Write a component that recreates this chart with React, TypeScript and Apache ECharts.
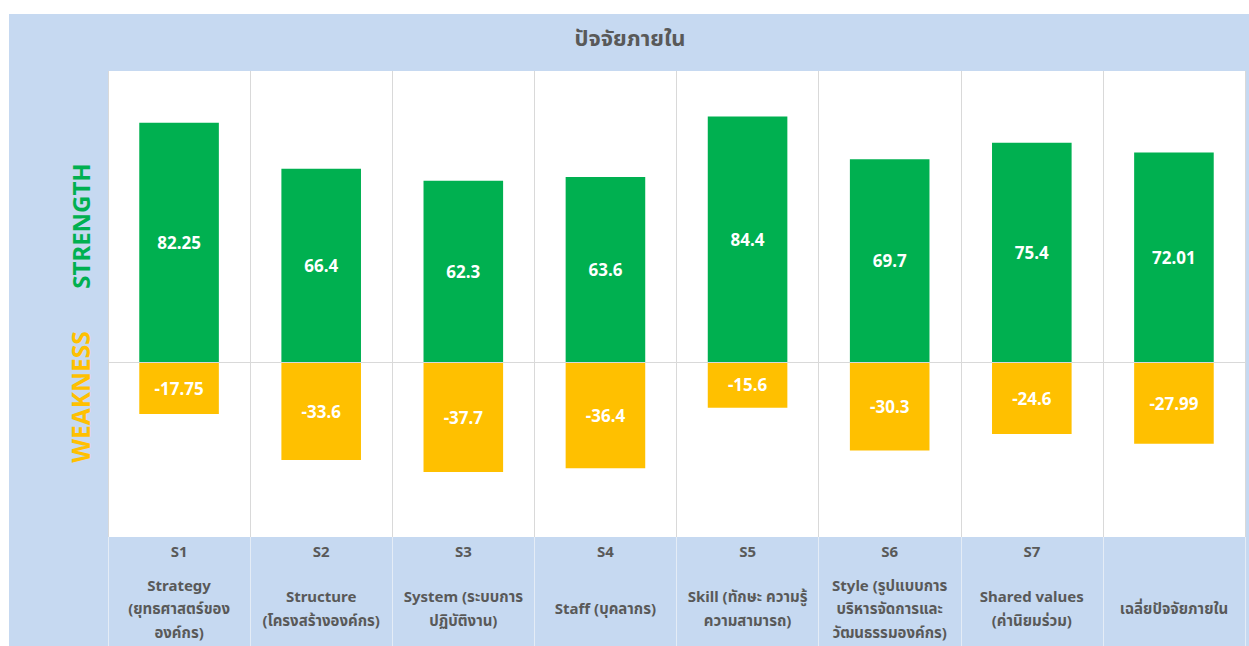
import React, { useEffect, useRef } from "react";
import * as echarts from "echarts";

const categories = ["S1", "S2", "S3", "S4", "S5", "S6", "S7", "AVG"];
const codeLabels = ["S1", "S2", "S3", "S4", "S5", "S6", "S7", ""];
const descLabels = [
  "Strategy\n(ยุทธศาสตร์ของ\nองค์กร)",
  "Structure\n(โครงสร้างองค์กร)",
  "System (ระบบการ\nปฏิบัติงาน)",
  "Staff (บุคลากร)",
  "Skill (ทักษะ ความรู้\nความสามารถ)",
  "Style (รูปแบบการ\nบริหารจัดการและ\nวัฒนธรรมองค์กร)",
  "Shared values\n(ค่านิยมร่วม)",
  "เฉลี่ยปัจจัยภายใน",
];
const strengthValues = [82.25, 66.4, 62.3, 63.6, 84.4, 69.7, 75.4, 72.01];
const weaknessValues = [-17.75, -33.6, -37.7, -36.4, -15.6, -30.3, -24.6, -27.99];
const titleText = "ปัจจัยภายใน";
const strengthLabel = "STRENGTH";
const weaknessLabel = "WEAKNESS";

const FONT = "'Noto Sans', 'Noto Sans Thai', Tahoma, sans-serif";
const GREY = "#595959";
const GREEN = "#00B050";
const YELLOW = "#FFC000";
const PANEL = "#C6D9F1";
const GRIDLINE = "#D9D9D9";

export default function App() {
  const ref = useRef<HTMLDivElement>(null);
  useEffect(() => {
    if (!ref.current) return;
    const chart = echarts.init(ref.current, null, { renderer: "svg" });
    const barLabel = {
      show: true,
      position: "inside",
      color: "#ffffff",
      fontWeight: "bold",
      fontSize: 17,
      fontFamily: FONT,
      formatter: (p: any) => String(p.value),
    };
    chart.setOption({
      animation: false,
      backgroundColor: "#ffffff",
      graphic: [
        {
          type: "rect",
          z: -10,
          shape: { x: 9, y: 14, width: 1240, height: 632 },
          style: { fill: PANEL },
          silent: true,
        },
        {
          type: "text",
          x: 630,
          y: 37,
          style: {
            text: titleText,
            fill: GREY,
            font: `bold 22px ${FONT}`,
            textAlign: "center",
            textVerticalAlign: "middle",
          },
        },
        {
          type: "text",
          x: 80,
          y: 226,
          rotation: Math.PI / 2,
          style: {
            text: strengthLabel,
            fill: GREEN,
            font: `bold 24px ${FONT}`,
            textAlign: "center",
            textVerticalAlign: "middle",
          },
        },
        {
          type: "text",
          x: 80,
          y: 397,
          rotation: Math.PI / 2,
          style: {
            text: weaknessLabel,
            fill: YELLOW,
            font: `bold 24.5px ${FONT}`,
            textAlign: "center",
            textVerticalAlign: "middle",
          },
        },
      ],
      grid: [
        {
          left: 108,
          top: 71,
          width: 1137,
          height: 466,
          show: true,
          backgroundColor: "#ffffff",
          borderWidth: 0,
        },
        {
          left: 108,
          top: 537,
          width: 1137,
          height: 120,
          show: false,
        },
      ],
      xAxis: [
        {
          gridIndex: 0,
          type: "category",
          data: categories,
          position: "bottom",
          axisLine: { show: false, onZero: false },
          axisTick: { show: false },
          splitLine: { show: true, interval: 0, lineStyle: { color: GRIDLINE, width: 1 } },
          axisLabel: {
            interval: 0,
            margin: 14,
            verticalAlign: "middle",
            color: GREY,
            fontWeight: "bold",
            fontSize: 15,
            fontFamily: FONT,
            formatter: (_v: string, i: number) => codeLabels[i],
          },
        },
        {
          gridIndex: 0,
          type: "category",
          data: categories,
          position: "bottom",
          offset: 0,
          axisLine: { show: false, onZero: false },
          axisTick: { show: false },
          splitLine: { show: false },
          axisLabel: {
            interval: 0,
            margin: 71,
            verticalAlign: "middle",
            color: GREY,
            fontWeight: "bold",
            fontSize: 15,
            lineHeight: 23.5,
            fontFamily: FONT,
            formatter: (_v: string, i: number) => descLabels[i],
          },
        },
        {
          gridIndex: 1,
          type: "category",
          data: categories,
          axisLine: { show: false },
          axisTick: { show: false },
          axisLabel: { show: false },
          splitLine: { show: true, interval: 0, lineStyle: { color: "#E4ECF6", width: 1 } },
        },
      ],
      yAxis: [
        {
          gridIndex: 0,
          type: "value",
          min: -60,
          max: 100,
          show: false,
          splitLine: { show: false },
        },
        {
          gridIndex: 1,
          type: "value",
          min: 0,
          max: 1,
          show: false,
        },
      ],
      series: [
        {
          name: "Strength",
          type: "bar",
          xAxisIndex: 0,
          yAxisIndex: 0,
          data: strengthValues,
          barWidth: "56%",
          barGap: "-100%",
          itemStyle: { color: GREEN },
          label: barLabel,
          markLine: {
            silent: true,
            symbol: "none",
            label: { show: false },
            lineStyle: { color: GRIDLINE, type: "solid", width: 1 },
            data: [{ yAxis: 0 }],
          },
        },
        {
          name: "Weakness",
          type: "bar",
          xAxisIndex: 0,
          yAxisIndex: 0,
          data: weaknessValues,
          barWidth: "56%",
          barGap: "-100%",
          itemStyle: { color: YELLOW },
          label: barLabel,
        },
      ],
    });
    return () => chart.dispose();
  }, []);
  return (
    <div
      ref={ref}
      style={{ position: "absolute", left: 0, top: 0, width: 1249, height: 646 }}
    />
  );
}
